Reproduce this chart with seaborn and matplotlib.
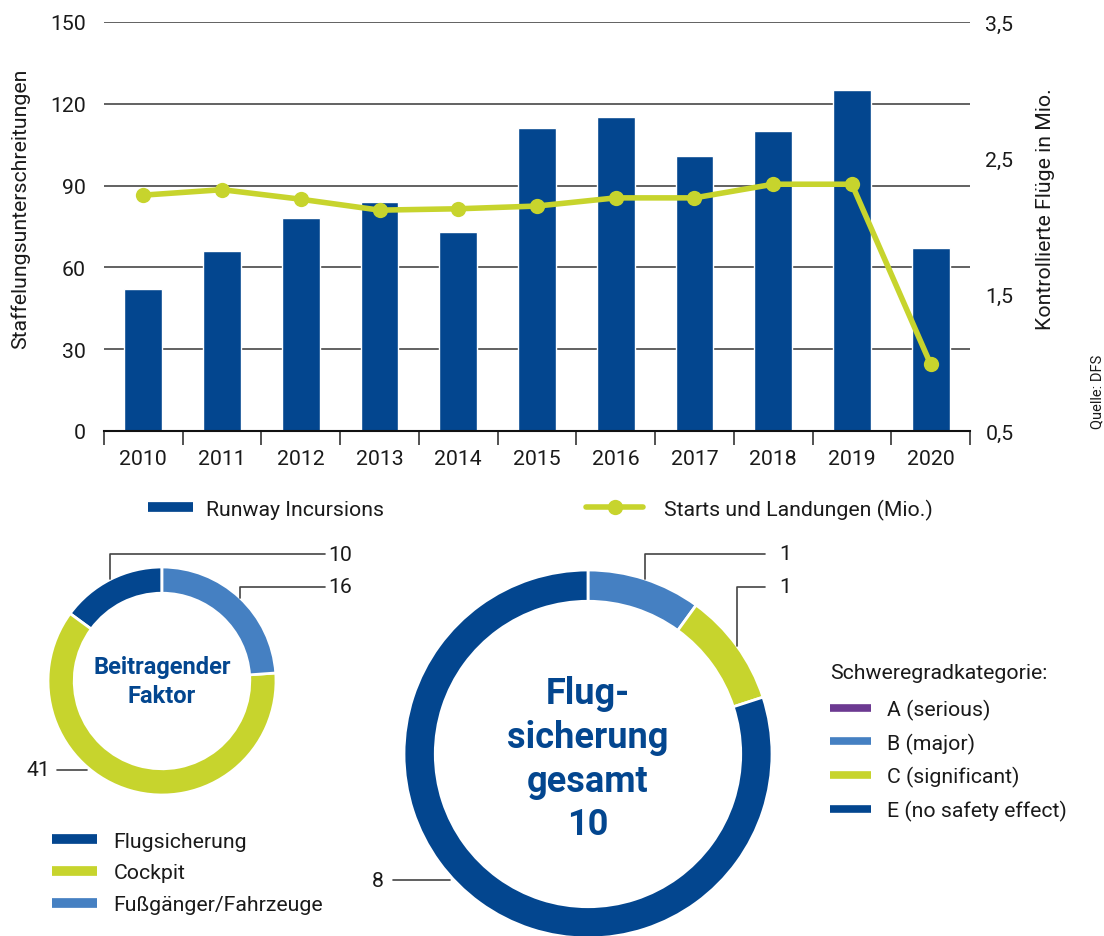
import numpy as np
import matplotlib
matplotlib.use("Agg")
import matplotlib.pyplot as plt
from matplotlib.lines import Line2D
import seaborn as sns

# Daten
jahre = ["2010", "2011", "2012", "2013", "2014", "2015", "2016", "2017", "2018", "2019", "2020"]
runway_incursions = [52, 66, 78, 84, 73, 111, 115, 101, 110, 125, 67]
starts_landungen = [2.23, 2.27, 2.20, 2.12, 2.13, 2.15, 2.21, 2.21, 2.31, 2.31, 0.99]

faktor_labels = ["Flugsicherung", "Cockpit", "Fußgänger/Fahrzeuge"]
faktor_werte = [10, 41, 16]

schwere_labels = ["A (serious)", "B (major)", "C (significant)", "E (no safety effect)"]
schwere_werte = [0, 1, 1, 8]
gesamt = sum(schwere_werte)

# Farben
BLAU = "#03468F"
GRUEN = "#C7D42D"
HELLBLAU = "#4580C2"
LILA = "#6C3991"
TEXT = "#1A1A1A"
GRID = "#555555"
FS = 15.3

sns.set_theme(style="white")
plt.rcParams["font.family"] = ["Roboto", "DejaVu Sans"]
plt.rcParams["text.color"] = TEXT
plt.rcParams["axes.labelcolor"] = TEXT
plt.rcParams["xtick.color"] = TEXT
plt.rcParams["ytick.color"] = TEXT

W, H = 1104, 937
fig = plt.figure(figsize=(W / 100, H / 100), dpi=100)


def box(x0, y0, x1, y1):
    # Pixel (oben links) -> Figurkoordinaten
    return [x0 / W, 1 - y1 / H, (x1 - x0) / W, (y1 - y0) / H]


# === 1. Balken + Linie ===
ax = fig.add_axes(box(104, 23, 970, 432))
sns.barplot(x=jahre, y=runway_incursions, color=BLAU, saturation=1, width=0.48, ax=ax)
ax.set_ylim(0, 150)
ax.set_yticks([0, 30, 60, 90, 120, 150])
ax.set_xlim(-0.5, len(jahre) - 0.5)
ax.set_axisbelow(True)
ax.grid(axis="y", color=GRID, lw=1.3)
ax.grid(axis="x", visible=False)
for s in ["left", "top", "right"]:
    ax.spines[s].set_visible(False)
ax.spines["bottom"].set_color("#111111")
ax.spines["bottom"].set_linewidth(1.5)
ax.set_xticks(np.arange(-0.5, len(jahre)), minor=True)
ax.tick_params(axis="x", which="major", length=0, pad=13, labelsize=FS)
ax.tick_params(axis="x", which="minor", length=10, width=1.3, color="#444444", direction="out", bottom=True)
ax.tick_params(axis="y", length=0, pad=13, labelsize=FS)
ax.set_xlabel("")
ax.set_ylabel("Staffelungsunterschreitungen", fontsize=FS)
ax.yaxis.set_label_coords(-0.085, 0.545)

ax2 = ax.twinx()
sns.lineplot(x=np.arange(len(jahre)), y=starts_landungen, ax=ax2, color=GRUEN, lw=4,
             marker="o", markersize=11, markeredgewidth=0)
ax2.set_ylim(0.5, 3.5)
ax2.set_yticks([0.5, 1.5, 2.5, 3.5])
ax2.set_yticklabels(["0,5", "1,5", "2,5", "3,5"])
ax2.tick_params(axis="y", length=0, pad=11, labelsize=FS)
for s in ax2.spines.values():
    s.set_visible(False)
ax2.set_xlim(-0.5, len(jahre) - 0.5)
ax2.set_xlabel("")
ax2.set_ylabel("Kontrollierte Flüge in Mio.", fontsize=FS)
ax2.yaxis.set_label_coords(1.076, 0.545)

fig.text(1097 / W, 1 - 392 / H, "Quelle: DFS", rotation=90, ha="center", va="center", fontsize=10.5)

# Legenden oben
fig.legend([Line2D([], [], color=BLAU, lw=7, solid_capstyle="butt")], ["Runway Incursions"],
           loc="center left", bbox_to_anchor=(148 / W, 1 - 510 / H), frameon=False,
           fontsize=FS, handlelength=2.1, handletextpad=0.65, borderpad=0, borderaxespad=0)
fig.legend([Line2D([], [], color=GRUEN, lw=4, marker="o", markersize=11, markeredgewidth=0)],
           ["Starts und Landungen (Mio.)"],
           loc="center left", bbox_to_anchor=(586 / W, 1 - 510 / H), frameon=False,
           fontsize=FS, handlelength=2.7, handletextpad=0.95, borderpad=0, borderaxespad=0)

# === 2. Beitragender Faktor (Donut klein) ===
axp = fig.add_axes(box(162 - 114, 682 - 114, 162 + 114, 682 + 114))
faktor_farben = [BLAU, GRUEN, HELLBLAU]
axp.pie(faktor_werte, colors=faktor_farben, startangle=90, counterclock=True,
        wedgeprops=dict(width=0.23, edgecolor="white", linewidth=2))
axp.set_xlim(-1, 1)
axp.set_ylim(-1, 1)
axp.text(0, 0, "Beitragender\nFaktor", ha="center", va="center", fontsize=17,
         fontweight="bold", color=BLAU, linespacing=1.3)

# Winkel der Segmente (gegen Uhrzeigersinn ab 90°)
grenzen = 90 + 360 * np.cumsum([0] + faktor_werte) / sum(faktor_werte)
mitte = (grenzen[:-1] + grenzen[1:]) / 2


def leader(a, winkel, y_lab, x_end, x_txt, text, ha="left"):
    px, py = np.cos(np.radians(winkel)), np.sin(np.radians(winkel))
    a.plot([px, px, x_end], [py, y_lab, y_lab], color="#444444", lw=1.2, clip_on=False)
    a.text(x_txt, y_lab, text, ha=ha, va="center", fontsize=FS)


leader(axp, mitte[0], 1.114, 1.43, 1.456, str(faktor_werte[0]))
leader(axp, mitte[2], 0.825, 1.43, 1.456, str(faktor_werte[2]))
axp.plot([-0.66, -0.92], [-0.78, -0.78], color="#444444", lw=1.2, clip_on=False)
axp.text(-0.98, -0.78, str(faktor_werte[1]), ha="right", va="center", fontsize=FS)

fig.legend([Line2D([], [], color=c, lw=7, solid_capstyle="butt") for c in faktor_farben], faktor_labels,
           loc="center left", bbox_to_anchor=(52 / W, 1 - 874 / H), frameon=False,
           fontsize=FS, handlelength=2.1, handletextpad=0.8, labelspacing=0.6,
           borderpad=0, borderaxespad=0)

# === 3. Flugsicherung gesamt (Donut gross) ===
axg = fig.add_axes(box(588 - 184, 755 - 184, 588 + 184, 755 + 184))
schwere_farben = [LILA, HELLBLAU, GRUEN, BLAU]
idx = [i for i in [1, 2, 3] if schwere_werte[i] > 0]
axg.pie([schwere_werte[i] for i in idx], colors=[schwere_farben[i] for i in idx],
        startangle=90, counterclock=False,
        wedgeprops=dict(width=0.17, edgecolor="white", linewidth=2))
axg.set_xlim(-1, 1)
axg.set_ylim(-1, 1)
axg.text(0, -0.025, f"Flug-\nsicherung\ngesamt\n{gesamt}", ha="center", va="center",
         fontsize=26, fontweight="bold", color=BLAU, linespacing=1.28)

g = 90 - 360 * np.cumsum([0] + [schwere_werte[i] for i in idx]) / gesamt
gm = (g[:-1] + g[1:]) / 2
leader(axg, gm[0], 1.087, 0.962, 1.04, str(schwere_werte[1]))
leader(axg, gm[1], 0.908, 0.962, 1.04, str(schwere_werte[2]))
axg.plot([-0.75, -1.06], [-0.685, -0.685], color="#444444", lw=1.2, clip_on=False)
axg.text(-1.11, -0.685, str(schwere_werte[3]), ha="right", va="center", fontsize=FS)

leg = fig.legend([Line2D([], [], color=c, lw=5.5, solid_capstyle="butt") for c in schwere_farben],
                 schwere_labels, title="Schweregradkategorie:", alignment="left",
                 loc="upper left", bbox_to_anchor=(830 / W, 1 - 664 / H), frameon=False,
                 fontsize=FS, title_fontsize=FS, handlelength=1.95, handletextpad=0.75,
                 labelspacing=0.6, borderpad=0, borderaxespad=0)
leg._legend_box.sep = 12

fig.savefig("out.png", dpi=100)
